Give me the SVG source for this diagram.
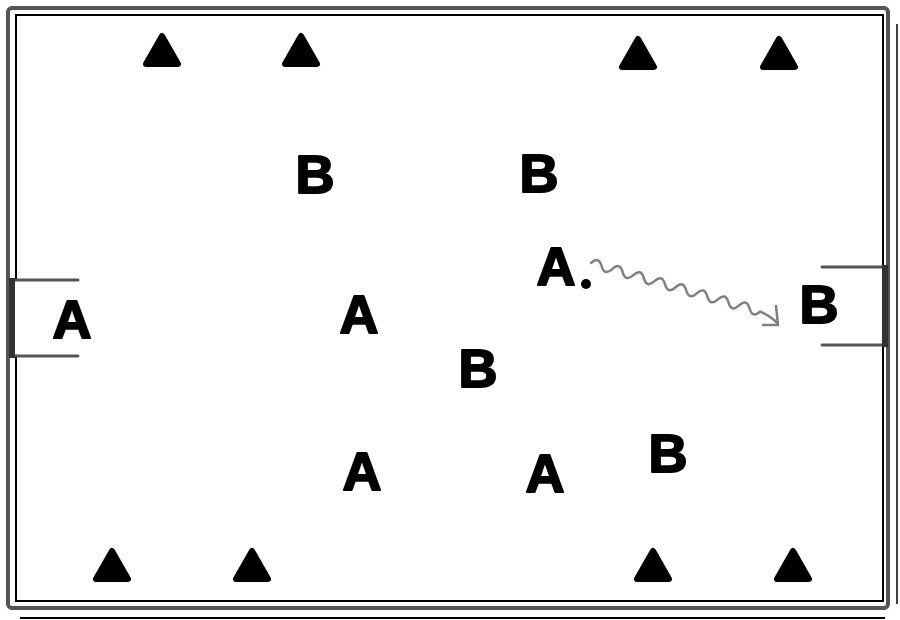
<svg xmlns="http://www.w3.org/2000/svg" width="900" height="620" viewBox="0 0 900 620">
<style>
.lbl{font-family:"Liberation Sans",Arial,sans-serif;font-weight:bold;font-size:54px;fill:#000;stroke:#000;stroke-width:2;stroke-linejoin:round;text-anchor:middle}
.cone{fill:#000;stroke:#000;stroke-width:6;stroke-linejoin:round}
.outer{fill:none;stroke:#555;stroke-width:4}
.inner{fill:none;stroke:#000;stroke-width:2}
.goal{fill:none;stroke:#555;stroke-width:3;stroke-linecap:round}
.post{stroke:#333;stroke-width:6}
</style>
<defs>
<path id="tri" d="M0,-14 L16,14 L-16,14 Z" class="cone"/>
</defs>
<rect width="900" height="620" fill="#fff"/>
<g id="field">
<rect class="outer" x="8" y="8" width="880" height="600" rx="4"/>
<path class="inner" d="M16,280 V15 H883 V601 H16 V356"/>
<line x1="20" y1="618" x2="885" y2="618" stroke="#000" stroke-width="2"/>
<line x1="897" y1="24" x2="897" y2="604" stroke="#000" stroke-width="1.5"/>
</g>
<g id="goal-left">
<line class="goal" x1="12" y1="280" x2="78" y2="280"/>
<line class="goal" x1="12" y1="356" x2="78" y2="356"/>
<line class="post" x1="12" y1="278" x2="12" y2="358"/>
</g>
<g id="goal-right">
<line class="goal" x1="822" y1="267" x2="885" y2="267"/>
<line class="goal" x1="822" y1="345" x2="885" y2="345"/>
<line class="post" x1="885" y1="265" x2="885" y2="347"/>
</g>
<g id="cones">
<use href="#tri" x="162" y="50"/>
<use href="#tri" x="301" y="50"/>
<use href="#tri" x="638" y="53"/>
<use href="#tri" x="779" y="53"/>
<use href="#tri" x="112" y="565"/>
<use href="#tri" x="252" y="565"/>
<use href="#tri" x="653" y="565"/>
<use href="#tri" x="793" y="565"/>
</g>
<g id="players">
<text class="lbl" x="315" y="193">B</text>
<text class="lbl" x="539" y="192">B</text>
<text class="lbl" x="556" y="285">A</text>
<text class="lbl" x="72" y="338">A</text>
<text class="lbl" x="359" y="333">A</text>
<text class="lbl" x="478" y="387">B</text>
<text class="lbl" x="819" y="323">B</text>
<text class="lbl" x="362" y="490">A</text>
<text class="lbl" x="545" y="492">A</text>
<text class="lbl" x="668" y="472">B</text>
</g>
<g id="ball"><circle cx="586" cy="284" r="5" fill="#000"/></g>
<g id="connectors" fill="none" stroke="#808080" stroke-width="2.5" stroke-linecap="round" stroke-linejoin="round">
<path transform="translate(591,263) rotate(16)" d="M0,0 q5.5,-9 11,0 t11,0 t11,0 t11,0 t11,0 t11,0 t11,0 t11,0 t11,0 t11,0 t11,0 t11,0 t11,0 t11,0 t11,0 t11,0 Q188,2 195,6"/>
<polyline points="763,325 778,325 776,306"/>
</g>
</svg>
